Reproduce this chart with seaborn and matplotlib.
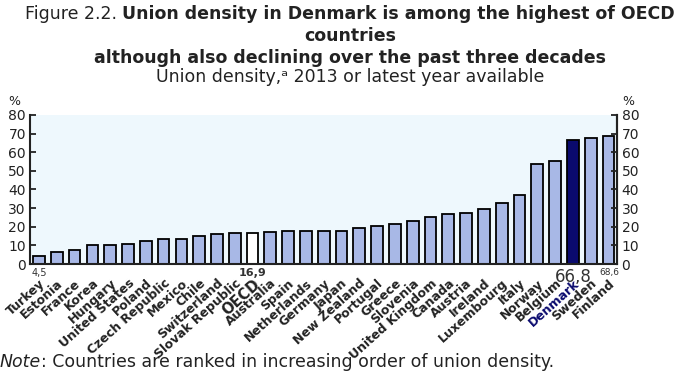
import matplotlib
matplotlib.use("Agg")
import matplotlib.pyplot as plt
import matplotlib.transforms as mtransforms
import seaborn as sns
import pandas as pd

# ---------------------------------------------------------
# Data
# ---------------------------------------------------------
countries = [
    "Turkey", "Estonia", "France", "Korea", "Hungary", "United States",
    "Poland", "Czech Republic", "Mexico", "Chile", "Switzerland",
    "Slovak Republic", "OECD", "Australia", "Spain", "Netherlands",
    "Germany", "Japan", "New Zealand", "Portugal", "Greece", "Slovenia",
    "United Kingdom", "Canada", "Austria", "Ireland", "Luxembourg",
    "Italy", "Norway", "Belgium", "Denmark", "Sweden", "Finland",
]
density = [
    4.5, 6.5, 7.7, 10.1, 10.5, 10.8, 12.5, 13.3, 13.6, 15.0, 16.2,
    16.7, 16.9, 17.0, 17.5, 17.6, 17.7, 17.8, 19.4, 20.5, 21.3, 23.1,
    25.4, 27.0, 27.4, 29.6, 32.8, 36.9, 53.5, 55.1, 66.8, 67.7, 68.6,
]
y_ticks = [0, 10, 20, 30, 40, 50, 60, 70, 80]

BAR = "#a8b8e6"
OECD_COL = "#ffffff"
DK_COL = "#0a0a6e"

colors = {c: BAR for c in countries}
colors["OECD"] = OECD_COL
colors["Denmark"] = DK_COL

df = pd.DataFrame({"country": countries, "density": density})

# ---------------------------------------------------------
# Plot
# ---------------------------------------------------------
sns.set_style("white")
plt.rcParams["font.family"] = ["DejaVu Sans"]

fig = plt.figure(figsize=(7.0, 3.73), dpi=100)
ax = fig.add_axes([0.043, 0.292, 0.839, 0.400])
ax.set_facecolor("#eef8fd")

sns.barplot(
    data=df, x="country", y="density", hue="country",
    palette=colors, legend=False, ax=ax,
    edgecolor="black", linewidth=1.3, width=0.66, saturation=1,
)

ax.set_xlim(-0.5, len(countries) - 0.5)
ax.set_ylim(0, 80)
ax.set_yticks(y_ticks)
ax.set_xlabel("")
ax.set_ylabel("")
ax.tick_params(axis="y", direction="in", length=4, width=1.3,
               labelsize=10, pad=3, colors="#222222")
ax.tick_params(axis="x", length=0, pad=9)

ax.spines["top"].set_visible(False)
for side in ["left", "right", "bottom"]:
    ax.spines[side].set_linewidth(1.5)
    ax.spines[side].set_color("#222222")

ax2 = ax.twinx()
ax2.set_ylim(0, 80)
ax2.set_yticks(y_ticks)
ax2.tick_params(axis="y", direction="in", length=4, width=1.3,
                labelsize=10, pad=3, colors="#222222")
for side in ["top", "left", "bottom"]:
    ax2.spines[side].set_visible(False)
ax2.spines["right"].set_linewidth(1.5)
ax2.spines["right"].set_color("#222222")

ax.set_xticks(range(len(countries)))
ax.set_xticklabels(countries, rotation=42, ha="right",
                   rotation_mode="anchor", fontsize=9,
                   fontweight="bold", color="#222222")
for lbl in ax.get_xticklabels():
    if lbl.get_text() == "Denmark":
        lbl.set_color(DK_COL)
    if lbl.get_text() == "OECD":
        lbl.set_fontsize(10.5)

# value labels just under the axis
trans = mtransforms.blended_transform_factory(ax.transData, ax.transAxes)
value_labels = {
    "Turkey": dict(size=7, weight="normal", dx=0.0),
    "OECD": dict(size=8, weight="bold", dx=0.0),
    "Denmark": dict(size=12, weight="normal", dx=0.0),
    "Finland": dict(size=6.5, weight="normal", dx=0.05),
}
for name, st in value_labels.items():
    i = countries.index(name)
    v = density[i]
    ax.text(i + st["dx"], -0.025, f"{v:.1f}".replace(".", ","),
            transform=trans, ha="center", va="top",
            fontsize=st["size"], fontweight=st["weight"], color="#333333",
            zorder=1)

# ---------------------------------------------------------
# Titles and notes
# ---------------------------------------------------------
renderer = fig.canvas.get_renderer()
t1 = fig.text(0, 0.962, "Figure 2.2. ", fontsize=12.5, va="center",
              color="#222222")
t2 = fig.text(0, 0.962,
              "Union density in Denmark is among the highest of OECD",
              fontsize=12.5, fontweight="bold", va="center",
              color="#222222")
w1 = t1.get_window_extent(renderer).width / fig.bbox.width
w2 = t2.get_window_extent(renderer).width / fig.bbox.width
x0 = 0.5 - (w1 + w2) / 2
t1.set_x(x0)
t2.set_x(x0 + w1)

fig.text(0.5, 0.903, "countries", fontsize=12.5, fontweight="bold",
         ha="center", va="center", color="#222222")
fig.text(0.5, 0.845, "although also declining over the past three decades",
         fontsize=12.5, fontweight="bold", ha="center", va="center",
         color="#222222")
fig.text(0.5, 0.793, "Union density,\u1d43 2013 or latest year available",
         fontsize=12.5, ha="center", va="center", color="#222222")

fig.text(0.012, 0.728, "%", fontsize=9, ha="left", va="center",
         color="#222222")
fig.text(0.889, 0.728, "%", fontsize=9, ha="left", va="center",
         color="#222222")

n1 = fig.text(0.0, 0.03, "Note", fontsize=12.5, fontstyle="italic",
              va="center", color="#222222")
wn = n1.get_window_extent(renderer).width / fig.bbox.width
fig.text(0.0 + wn, 0.03,
         ": Countries are ranked in increasing order of union density.",
         fontsize=12.5, va="center", color="#222222")

fig.savefig("out.png", dpi=100, facecolor="white")
plt.close(fig)
